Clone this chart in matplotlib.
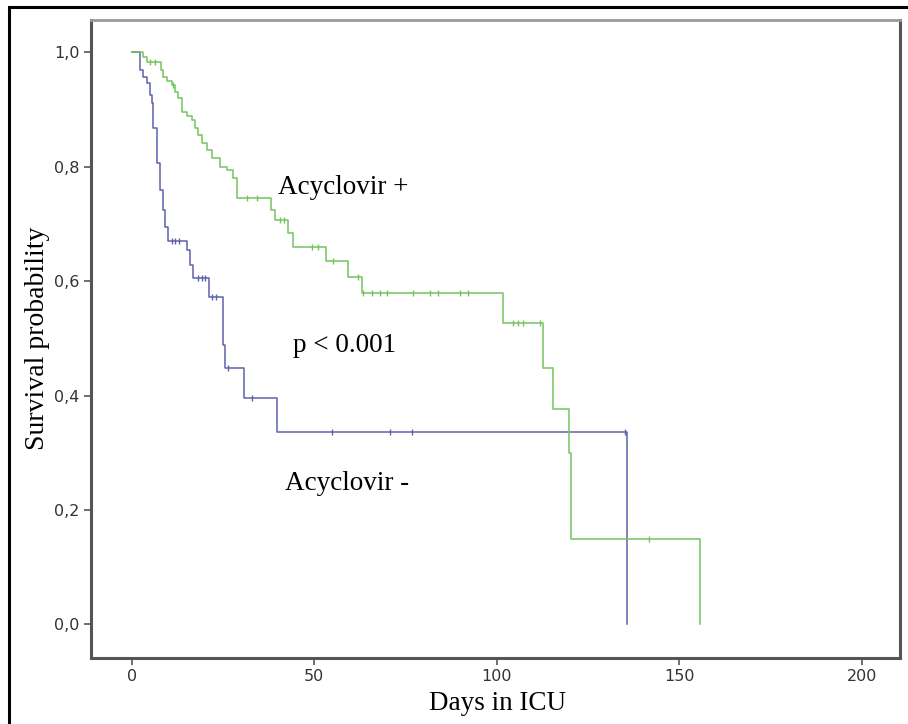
import numpy as np
import matplotlib
matplotlib.use("Agg")
from matplotlib import pyplot as plt
from matplotlib.patches import Rectangle

# Acyclovir - (blue): event times (days) and survival after each step
neg_times = [0, 2.2, 3.0, 4.1, 4.9, 5.5, 5.8, 6.8, 7.7, 8.5, 9.0, 9.9,
             15.1, 15.9, 16.7, 21.1, 24.9, 25.5, 30.7, 39.7, 135.6]
neg_surv = [1.0, 0.969, 0.956, 0.946, 0.925, 0.911, 0.867, 0.806, 0.759, 0.724, 0.694, 0.671,
            0.654, 0.628, 0.605, 0.572, 0.488, 0.448, 0.395, 0.337, 0.0]
neg_cens = [11.0, 12.0, 13.0, 18.1, 19.2, 20.0, 21.9, 23.0, 26.3, 32.9, 54.8, 70.7, 76.7, 135.0]

# Acyclovir + (green)
pos_times = [0, 3.0, 4.1, 7.9, 8.5, 9.6, 11.0, 11.8, 12.6, 13.7, 15.1, 16.4, 17.3, 18.1,
             19.2, 20.5, 21.9, 24.1, 26.0, 27.7, 28.8, 38.1, 39.2, 42.7, 44.1, 53.2,
             59.2, 63.0, 101.6, 112.6, 115.3, 119.7, 120.3, 155.6]
pos_surv = [1.0, 0.991, 0.983, 0.969, 0.956, 0.949, 0.942, 0.930, 0.920, 0.895, 0.888, 0.881,
            0.867, 0.855, 0.841, 0.829, 0.815, 0.799, 0.794, 0.780, 0.745, 0.724, 0.706,
            0.684, 0.659, 0.636, 0.607, 0.579, 0.526, 0.449, 0.376, 0.299, 0.150, 0.0]
pos_cens = [4.9, 6.3, 11.3, 31.5, 34.2, 40.5, 41.6, 49.3, 51.0, 55.1, 61.9, 63.3, 65.8, 67.9,
            69.9, 77.0, 81.6, 83.8, 89.9, 92.1, 104.4, 105.8, 107.1, 111.8, 141.6]


def surv_at(times, surv, t):
    """ survival value of the step curve at time t """
    idx = np.searchsorted(times, t, side='right') - 1
    return np.array(surv)[idx]


blue = '#5f62ad'
green = '#74c45f'

fig = plt.figure(figsize=(9.08, 7.24), dpi=100)
ax = fig.add_axes([0.100, 0.091, 0.891, 0.881])

ax.step(neg_times, neg_surv, where='post', color=blue, lw=1.1)
ax.step(pos_times, pos_surv, where='post', color=green, lw=1.1)

ax.plot(neg_cens, surv_at(neg_times, neg_surv, neg_cens), ls='none', marker='|',
        ms=4, mew=1, color=blue)
ax.plot(pos_cens, surv_at(pos_times, pos_surv, pos_cens), ls='none', marker='|',
        ms=4, mew=1, color=green)

ax.set_xlim(-11.2, 210.4)
ax.set_ylim(-0.059, 1.056)
ax.set_xticks([0, 50, 100, 150, 200])
ax.set_yticks([0.0, 0.2, 0.4, 0.6, 0.8, 1.0])
ax.set_yticklabels(['0,0', '0,2', '0,4', '0,6', '0,8', '1,0'])

tick_font = ['Liberation Sans Narrow', 'DejaVu Sans']
for lab in ax.get_xticklabels() + ax.get_yticklabels():
    lab.set_family(tick_font)
    lab.set_fontsize(11.5)
    lab.set_color('#333333')

ax.tick_params(direction='out', length=5, width=1.2, color='#555555', pad=3)
for side in ['left', 'bottom', 'right']:
    ax.spines[side].set_color('#555555')
    ax.spines[side].set_linewidth(2.2)
ax.spines['top'].set_color('#999999')
ax.spines['top'].set_linewidth(2)

serif = 'Liberation Serif'
ax.set_xlabel('Days in ICU', family=serif, fontsize=19.5)
ax.set_ylabel('Survival probability', family=serif, fontsize=20)
ax.xaxis.set_label_coords(0.503, -0.052)
ax.yaxis.set_label_coords(-0.050, 0.502)

ax.text(40.0, 0.764, 'Acyclovir +', family=serif, fontsize=19.5, va='center', ha='left')
ax.text(44.1, 0.488, 'p < 0.001', family=serif, fontsize=19.5, va='center', ha='left')
ax.text(41.9, 0.247, 'Acyclovir -', family=serif, fontsize=19.5, va='center', ha='left')

# outer black frame of the picture (right and bottom edges fall outside)
fig.patches.append(Rectangle((0.010, -0.01), 1.0, 1.0, transform=fig.transFigure,
                             fill=False, edgecolor='black', lw=2.2))

fig.savefig('out.png', dpi=100)
